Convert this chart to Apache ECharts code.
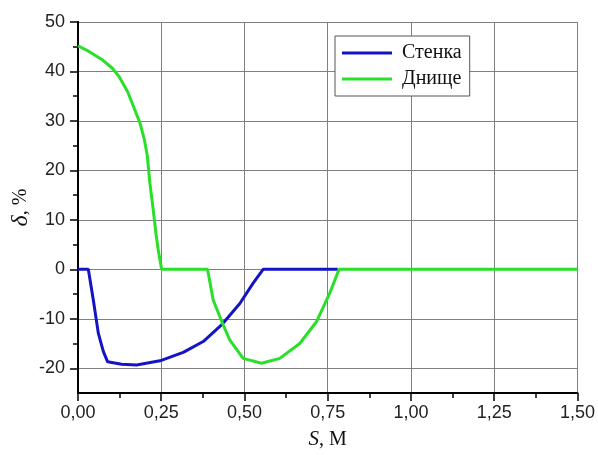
<!DOCTYPE html>
<html><head><meta charset="utf-8">
<script src="https://cdn.jsdelivr.net/npm/echarts@6/dist/echarts.min.js"></script>
<style>html,body{margin:0;padding:0;background:#fff}#c{width:598px;height:455px}</style>
</head><body><div id="c"></div>
<script>
// Стенка (wall)
const wallS = [0, 0.031, 0.046, 0.061, 0.076, 0.089, 0.131, 0.176, 0.246, 0.316, 0.376, 0.431, 0.486, 0.526, 0.556, 0.78];
const wallV = [0, 0, -6.2, -12.9, -16.6, -18.7, -19.2, -19.35, -18.5, -16.8, -14.6, -11.25, -6.9, -2.8, 0, 0];
// Днище (bottom)
const bottomS = [0, 0.034, 0.074, 0.104, 0.124, 0.149, 0.169, 0.186, 0.199, 0.208, 0.216, 0.226, 0.234, 0.241, 0.251, 0.389, 0.406, 0.436, 0.456, 0.496, 0.551, 0.606, 0.666, 0.716, 0.756, 0.784, 1.5];
const bottomV = [45.2, 44.0, 42.3, 40.6, 38.9, 35.9, 32.5, 29.6, 26.3, 23.0, 17.4, 12.0, 7.3, 3.9, 0, 0, -6.2, -11.25, -14.3, -18.0, -19.0, -18.0, -15.0, -10.6, -4.8, 0, 0];
const seriesNames = ['Стенка', 'Днище'];
const yMajorTicks = [-20, -10, 0, 10, 20, 30, 40, 50];
const yMinorTicks = [-15, -5, 5, 15, 25, 35, 45];

const pairs = (xs, ys) => xs.map((x, i) => [x, ys[i]]);
const chart = echarts.init(document.getElementById('c'));
const sans = 'Liberation Sans, Arial, sans-serif';
const serif = 'Liberation Serif, Times New Roman, serif';
chart.setOption({
  animation: false,
  backgroundColor: '#fff',
  grid: {left: 78, right: 20, top: 22, bottom: 62, containLabel: false},
  legend: {
    orient: 'vertical', left: 335, top: 36, padding: [7, 8, 7, 7], itemGap: 6,
    itemWidth: 50, itemHeight: 3, icon: 'rect',
    backgroundColor: '#fff', borderColor: '#555', borderWidth: 1, borderRadius: 0,
    formatter: n => ' ' + n,
    textStyle: {fontFamily: serif, fontSize: 20, color: '#111', lineHeight: 20},
    data: seriesNames
  },
  xAxis: {
    type: 'value', min: 0, max: 1.5, interval: 0.25,
    name: '{s|S}{n|, М}', nameLocation: 'middle', nameGap: 36,
    nameTextStyle: {rich: {s: {fontFamily: serif, fontStyle: 'italic', fontSize: 21, color: '#111'}, n: {fontFamily: serif, fontSize: 20, color: '#111'}}},
    axisLine: {onZero: false, lineStyle: {color: '#000', width: 2}},
    axisTick: {length: 8, lineStyle: {color: '#000', width: 1.5}},
    minorTick: {show: true, splitNumber: 2, length: 5, lineStyle: {color: '#000', width: 1.5}},
    splitLine: {show: true, lineStyle: {color: '#808080', width: 1}},
    axisLabel: {margin: 11, fontFamily: sans, fontSize: 18, color: '#222', formatter: v => v.toFixed(2).replace('.', ',')}
  },
  yAxis: [{
    type: 'value', min: -25, max: 50, splitNumber: 8, position: 'left',
    name: '{d|δ}{n|, %}', nameLocation: 'middle', nameGap: 45, nameRotate: 90, nameMoveOverlap: false,
    nameTextStyle: {rich: {d: {fontFamily: serif, fontStyle: 'italic', fontSize: 24, color: '#111'}, n: {fontFamily: serif, fontSize: 20, color: '#111'}}},
    axisLine: {onZero: false, lineStyle: {color: '#000', width: 2}},
    axisTick: {length: 8, customValues: yMajorTicks, lineStyle: {color: '#000', width: 1.5}},
    splitLine: {show: true, lineStyle: {color: '#808080', width: 1}},
    axisLabel: {margin: 13, customValues: yMajorTicks, fontFamily: sans, fontSize: 18, color: '#222',
      formatter: v => (v % 10 === 0 ? String(v) : '')}
  }, {
    type: 'value', min: -25, max: 50, interval: 5, position: 'left',
    axisLine: {show: true, onZero: false, lineStyle: {color: '#000', width: 2}},
    axisTick: {show: true, length: 5, customValues: yMinorTicks, lineStyle: {color: '#000', width: 1.5}},
    splitLine: {show: false},
    axisLabel: {show: false}
  }],
  series: [{
    name: seriesNames[0], type: 'line', yAxisIndex: 0, data: pairs(wallS, wallV),
    symbol: 'none', lineStyle: {color: '#1414c4', width: 3}, itemStyle: {color: '#1414c4'}, z: 2
  }, {
    name: seriesNames[1], type: 'line', yAxisIndex: 0, data: pairs(bottomS, bottomV),
    symbol: 'none', lineStyle: {color: '#28e028', width: 3}, itemStyle: {color: '#28e028'}, z: 3
  }]
});
</script></body></html>
